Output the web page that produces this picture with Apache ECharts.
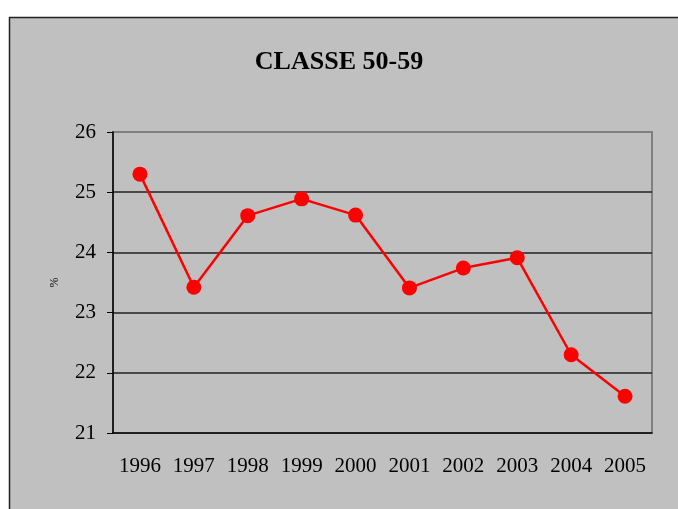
<!DOCTYPE html>
<html>
<head>
<meta charset="utf-8">
<script src="https://cdn.jsdelivr.net/npm/echarts@6/dist/echarts.min.js"></script>
<style>
  html, body { margin: 0; padding: 0; background: #fff; }
  #chart { width: 678px; height: 509px; }
</style>
</head>
<body>
<div id="chart"></div>
<script>
const years = ['1996', '1997', '1998', '1999', '2000', '2001', '2002', '2003', '2004', '2005']
const values = [25.3, 23.42, 24.61, 24.89, 24.62, 23.41, 23.74, 23.91, 22.3, 21.61]
const yMin = 21
const yMax = 26

const serif = '"Liberation Serif", "Times New Roman", serif'
const chart = echarts.init(document.getElementById('chart'))

chart.setOption({
  backgroundColor: '#fff',
  animation: false,
  graphic: [{
    type: 'rect', z: -10, silent: true,
    shape: { x: 9.5, y: 17.5, width: 700, height: 600 },
    style: { fill: '#c0c0c0', stroke: '#222', lineWidth: 1.5 },
  }],
  title: {
    text: 'CLASSE 50-59',
    left: 'center', top: 44,
    textStyle: { fontFamily: serif, fontSize: 26, fontWeight: 'bold', color: '#000' },
  },
  grid: {
    left: 113, right: 26, top: 132, bottom: 76,
    show: true, backgroundColor: 'transparent',
    borderColor: '#808080', borderWidth: 2,
  },
  xAxis: {
    type: 'category', data: years, boundaryGap: true,
    axisLine: { lineStyle: { color: '#000', width: 1.5 } },
    axisTick: { length: 6, lineStyle: { color: '#000' } },
    axisLabel: { interval: 0, fontFamily: serif, fontSize: 21, color: '#000', margin: 23 },
  },
  yAxis: {
    type: 'value', min: yMin, max: yMax, interval: 1,
    name: '%', nameLocation: 'middle', nameGap: 52, nameRotate: 90,
    nameTextStyle: { fontFamily: serif, fontSize: 12, color: '#000' },
    axisLine: { show: true, lineStyle: { color: '#000', width: 1.5 } },
    axisTick: { show: true, length: 6, lineStyle: { color: '#000' } },
    axisLabel: { fontFamily: serif, fontSize: 21, color: '#000', margin: 17 },
    splitLine: { showMinLine: false, showMaxLine: false, lineStyle: { color: '#222', width: 1.5 } },
  },
  series: [{
    type: 'line', data: values,
    symbol: 'circle', symbolSize: 15,
    lineStyle: { color: '#ff0000', width: 2.5 },
    itemStyle: { color: '#ff0000' },
  }],
})
</script>
</body>
</html>
